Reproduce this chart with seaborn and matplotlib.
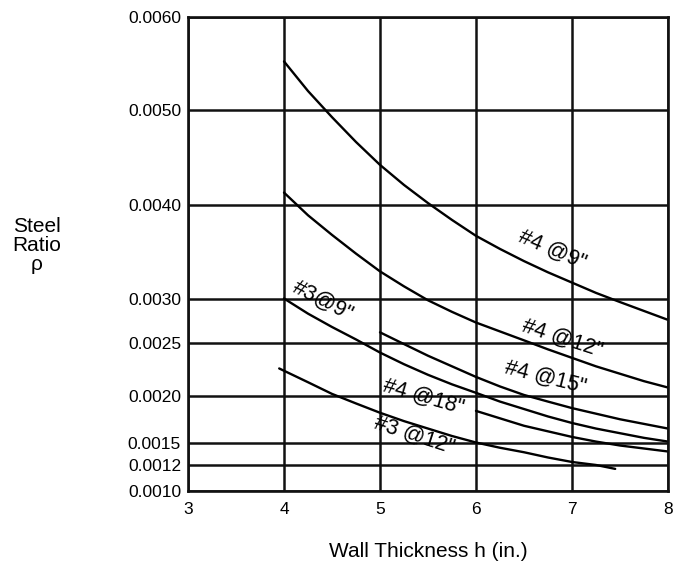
import numpy as np
import pandas as pd
import matplotlib
matplotlib.use("Agg")
import matplotlib.pyplot as plt
import seaborn as sns

# ---- data ----
h_4at9 = [4.0, 4.25, 4.5, 4.75, 5.0, 5.25, 5.5, 5.75, 6.0, 6.25, 6.5, 6.75, 7.0, 7.25, 7.5, 7.75, 8.0]
rho_4at9 = [0.00552, 0.00520, 0.00492, 0.00466, 0.00442, 0.00421, 0.00402, 0.00384, 0.00367,
            0.00353, 0.00340, 0.00328, 0.00317, 0.00306, 0.00296, 0.00286, 0.00276]

h_4at12 = [4.0, 4.25, 4.5, 4.75, 5.0, 5.25, 5.5, 5.75, 6.0, 6.25, 6.5, 6.75, 7.0, 7.25, 7.5, 7.75, 8.0]
rho_4at12 = [0.00413, 0.00389, 0.00368, 0.00348, 0.00329, 0.00313, 0.00298, 0.00285, 0.00273,
             0.00263, 0.00253, 0.00244, 0.00236, 0.00228, 0.00221, 0.00214, 0.00208]

h_3at9 = [4.0, 4.25, 4.5, 4.75, 5.0, 5.25, 5.5, 5.75, 6.0, 6.25, 6.5, 6.75, 7.0, 7.25, 7.5, 7.75, 8.0]
rho_3at9 = [0.00300, 0.00283, 0.00268, 0.00254, 0.00241, 0.00230, 0.00220, 0.00211, 0.00203,
            0.00194, 0.00186, 0.00178, 0.00171, 0.00165, 0.00160, 0.00155, 0.00151]

h_4at15 = [5.0, 5.25, 5.5, 5.75, 6.0, 6.25, 6.5, 6.75, 7.0, 7.25, 7.5, 7.75, 8.0]
rho_4at15 = [0.00262, 0.00249, 0.00238, 0.00228, 0.00218, 0.00209, 0.00201, 0.00194, 0.00187,
             0.00181, 0.00175, 0.00170, 0.00165]

h_4at18 = [6.0, 6.25, 6.5, 6.75, 7.0, 7.25, 7.5, 7.75, 8.0]
rho_4at18 = [0.00184, 0.00176, 0.00168, 0.00162, 0.00156, 0.00151, 0.00146, 0.00142, 0.00138]

h_3at12 = [3.95, 4.25, 4.5, 4.75, 5.0, 5.25, 5.5, 5.75, 6.0, 6.25, 6.5, 6.75, 7.0, 7.25, 7.45]
rho_3at12 = [0.00226, 0.00213, 0.00202, 0.00192, 0.00182, 0.00173, 0.00165, 0.00157, 0.00150,
             0.00143, 0.00137, 0.00130, 0.00124, 0.00120, 0.00117]

curve_names = ['#4 @9"', '#4 @12"', '#3@9"', '#4 @15"', '#4 @18"', '#3 @12"']

x_ticks = [3, 4, 5, 6, 7, 8]
y_ticks = [0.0010, 0.0012, 0.0015, 0.0020, 0.0025, 0.0030, 0.0040, 0.0050, 0.0060]
y_tick_labels = ["0.0010", "0.0012", "0.0015", "0.0020", "0.0025",
                 "0.0030", "0.0040", "0.0050", "0.0060"]

# non-uniform vertical scale of the original graph paper (fraction of axis height)
y_scale_frac = [0.0, 0.0549, 0.1023, 0.2004, 0.3122, 0.4061, 0.6034, 0.8048, 1.0]

frames = []
for name, hs, rs in zip(curve_names,
                        [h_4at9, h_4at12, h_3at9, h_4at15, h_4at18, h_3at12],
                        [rho_4at9, rho_4at12, rho_3at9, rho_4at15, rho_4at18, rho_3at12]):
    frames.append(pd.DataFrame({"h": hs, "rho": rs, "curve": name}))
df = pd.concat(frames, ignore_index=True)

sns.set_theme(style="white")
plt.rcParams["font.family"] = ["Liberation Sans", "DejaVu Sans"]

fig = plt.figure(figsize=(6.77, 5.72), dpi=100)
ax = fig.add_axes([188 / 677, 1 - 491 / 572, 480 / 677, 474 / 572])


def fwd(v):
    return np.interp(np.asarray(v, dtype=float), y_ticks, y_scale_frac)


def inv(f):
    return np.interp(np.asarray(f, dtype=float), y_scale_frac, y_ticks)


ax.set_yscale("function", functions=(fwd, inv))

sns.lineplot(data=df, x="h", y="rho", hue="curve", palette=["black"] * len(curve_names),
             estimator=None, sort=False, legend=False, linewidth=1.7, ax=ax)

ax.set_xlim(3, 8)
ax.set_ylim(0.0010, 0.0060)
ax.set_xticks(x_ticks, labels=[str(t) for t in x_ticks])
ax.set_yticks(y_ticks, labels=y_tick_labels)
ax.minorticks_off()
ax.grid(True, color="#111111", linewidth=1.8)
ax.set_axisbelow(True)
for sp in ax.spines.values():
    sp.set_visible(True)
    sp.set_color("#111111")
    sp.set_linewidth(1.9)
ax.tick_params(axis="both", length=0, labelsize=12.5, colors="black")
ax.tick_params(axis="y", pad=5)
ax.tick_params(axis="x", pad=8)

ax.set_xlabel("Wall Thickness h (in.)", fontsize=15, labelpad=18, color="black")
ax.set_ylabel("")
fig.text(37 / 677, 1 - 246 / 572, "Steel\nRatio\nρ", ha="center", va="center",
         fontsize=15, linespacing=1.0, color="black")

# curve labels
label_pos = {
    '#4 @9"': (6.79, 0.00352, -23),
    '#4 @12"': (6.90, 0.002556, -18),
    '#4 @15"': (6.72, 0.00217, -14),
    '#4 @18"': (5.45, 0.00199, -16),
    '#3 @12"': (5.36, 0.00158, -18),
    '#3@9"': (4.41, 0.00297, -27),
}
for name in curve_names:
    x, y, r = label_pos[name]
    ax.text(x, y, name, rotation=r, rotation_mode="anchor", ha="center", va="center",
            fontsize=15.5, color="black")

fig.savefig("out.png", dpi=100, facecolor="white")
